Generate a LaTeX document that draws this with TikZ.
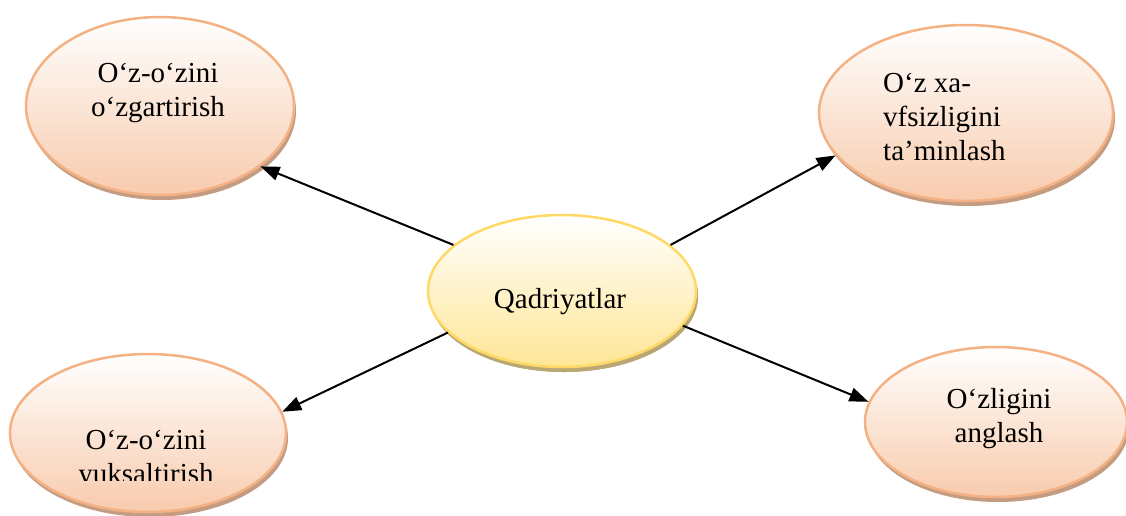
\documentclass[tikz,border=0pt]{standalone}
\usepackage{fontspec}
\setmainfont{Liberation Serif}
\usetikzlibrary{shapes.geometric,shadows,arrows.meta}
\definecolor{peachline}{RGB}{244,177,131}
\definecolor{peachfill}{RGB}{248,203,173}
\definecolor{peachshadow}{RGB}{196,156,130}
\definecolor{goldline}{RGB}{255,217,102}
\definecolor{goldfill}{RGB}{255,230,150}
\definecolor{goldshadow}{RGB}{186,168,116}
\begin{document}
\begin{tikzpicture}[x=1pt,y=-1pt,
  bubble/.style={ellipse,inner sep=0pt,line width=2.5pt,draw=peachline,top color=white,bottom color=peachfill,
    drop shadow={shadow xshift=2pt,shadow yshift=-5pt,fill=peachshadow,opacity=1}},
  hub/.style={bubble,draw=goldline,bottom color=goldfill,
    drop shadow={shadow xshift=2pt,shadow yshift=-5pt,fill=goldshadow,opacity=1}},
  txt/.style={inner sep=0pt,font=\fontsize{29}{34}\selectfont},
  arr/.style={line width=2pt,-{Triangle[length=19pt,width=14pt]}}]
\useasboundingbox (0,0) rectangle (1126,515);

\node[hub,minimum width=268pt,minimum height=152pt] (val) at (562,291) {};
\node[bubble,minimum width=268pt,minimum height=178pt] (change) at (160,106) {};
\node[bubble,minimum width=276pt,minimum height=158pt] (raise) at (148,433) {};
\node[bubble,minimum width=294pt,minimum height=176pt] (safe) at (966,113) {};
\node[bubble,minimum width=262pt,minimum height=150pt] (self) at (996,422) {};

\node[txt,anchor=base] (valtxt) at ([shift={(-2,17)}]val.center) {Qadriyatlar};
\node[txt,anchor=north,align=center] (changetxt) at ([shift={(-2,-43)}]change.center) {O‘z-o‘zini\\o‘zgartirish};
\node[txt,anchor=north west,align=left] (safetxt) at ([shift={(-83,-40)}]safe.center) {O‘z xa-\\vfsizligini\\ta’minlash};
\node[txt,anchor=north,align=center] (selftxt) at ([shift={(3,-34)}]self.center) {O‘zligini\\anglash};
\begin{scope}
\clip (0,0) rectangle (1126,480);
\node[txt,anchor=north,align=center] (raisetxt) at ([shift={(-2,-3)}]raise.center) {O‘z-o‘zini\\yuksaltirish};
\end{scope}

\draw[arr] (val.157) -- (change.-31);
\draw[arr] (val.200) -- (raise.9);
\draw[arr] (val.23) -- (safe.198);
\draw[arr] (val.-16) -- (self.171);
\end{tikzpicture}
\end{document}
